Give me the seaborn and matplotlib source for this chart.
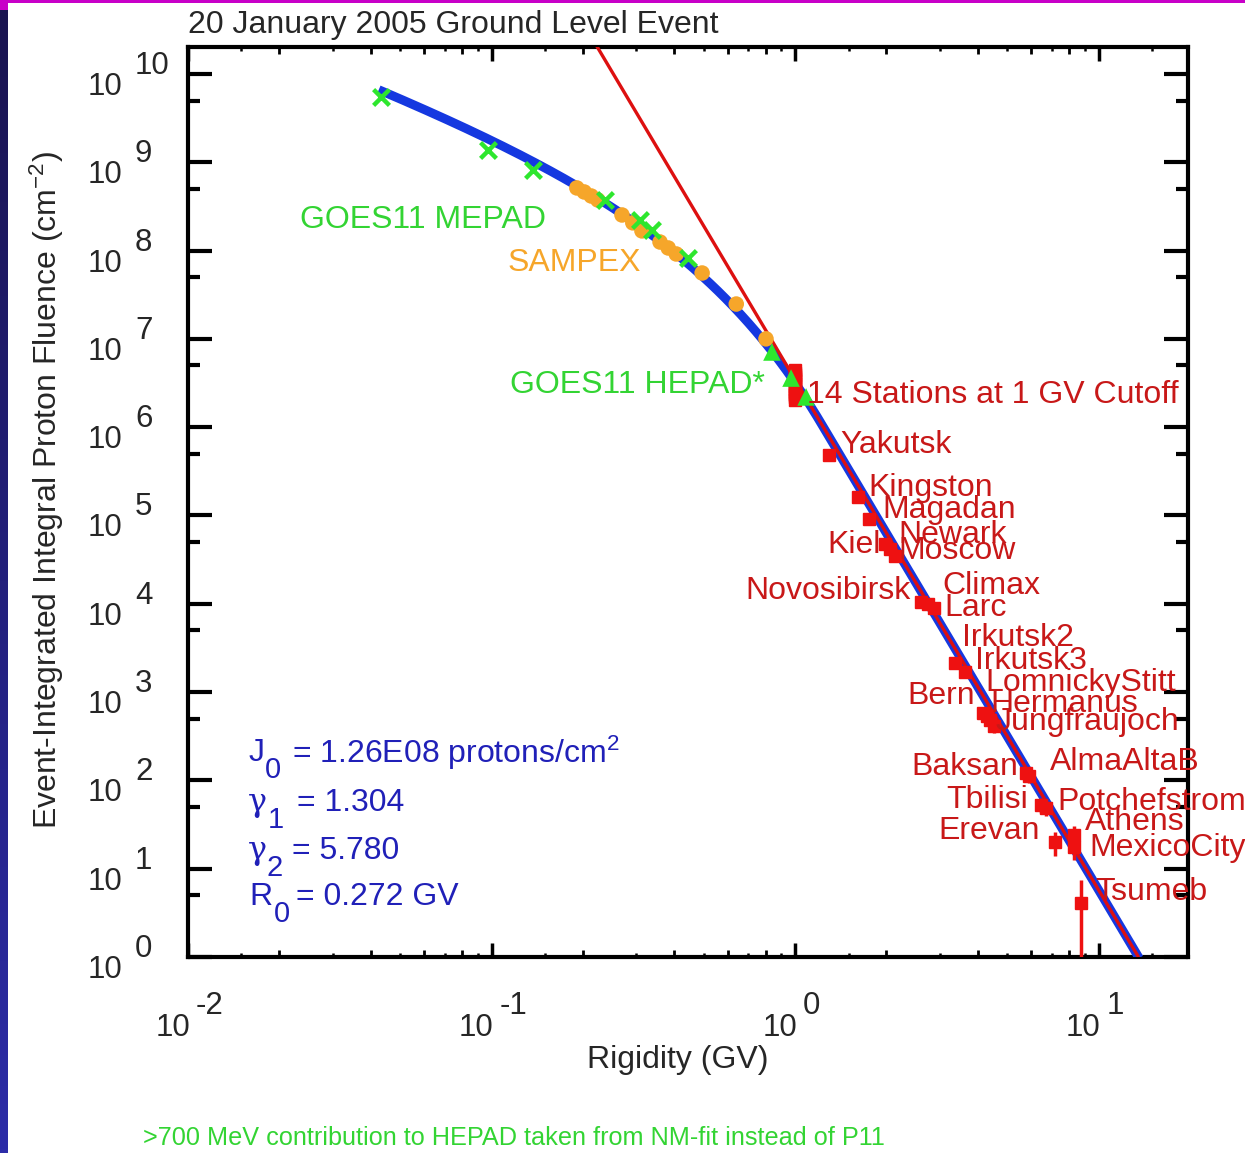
import numpy as np
import matplotlib
matplotlib.use("Agg")
import matplotlib.pyplot as plt
import seaborn as sns
from matplotlib.transforms import offset_copy
from matplotlib.ticker import FixedLocator, NullFormatter
from matplotlib.colors import LinearSegmentedColormap
from matplotlib.patches import Rectangle

# ---------------------------------------------------------------- data
# GOES11 MEPAD integral fluences (GV, protons/cm^2)
mepad_rigidity = [0.0433, 0.0974, 0.137, 0.237, 0.308, 0.337, 0.444]
mepad_fluence = [5.5e9, 1.38e9, 8.2e8, 3.74e8, 2.22e8, 1.71e8, 8.25e7]

# SAMPEX integral fluences
sampex_rigidity = [0.191, 0.202, 0.213, 0.224, 0.269, 0.292, 0.313,
                   0.359, 0.382, 0.406, 0.494, 0.640, 0.802]
sampex_fluence = [5.12e8, 4.61e8, 4.15e8, 3.74e8, 2.53e8, 2.06e8, 1.67e8,
                  1.25e8, 1.07e8, 9.15e7, 5.57e7, 2.48e7, 1.0e7]

# GOES11 HEPAD integral fluences
hepad_rigidity = [0.839, 0.970, 1.087]
hepad_fluence = [7.1e6, 3.6e6, 2.2e6]

# neutron monitors at ~1 GV cutoff (14 stations)
cutoff_rigidity = [1.0] * 14
cutoff_fluence = [4.4e6, 4.1e6, 3.9e6, 3.7e6, 3.5e6, 3.3e6, 3.1e6,
                  2.9e6, 2.7e6, 2.5e6, 2.4e6, 2.3e6, 2.2e6, 2.05e6]
cutoff_err = [2.0e5] * 14

# neutron monitor stations above 1 GV
station_names = ["Yakutsk", "Kingston", "Magadan", "Kiel", "Newark", "Moscow",
                 "Novosibirsk", "Climax", "Larc", "Irkutsk2", "Irkutsk3",
                 "Bern", "LomnickyStitt", "Hermanus", "Jungfraujoch",
                 "Baksan", "AlmaAltaB", "Tbilisi", "Potchefstrom",
                 "Erevan", "Athens", "MexicoCity", "Tsumeb"]
station_rigidity = [1.294, 1.613, 1.754, 1.98, 2.056, 2.136,
                    2.60, 2.74, 2.87, 3.37, 3.63,
                    4.16, 4.30, 4.39, 4.53,
                    5.77, 5.90, 6.46, 6.71,
                    7.19, 8.30, 8.30, 8.75]
station_fluence = [4.84e5, 1.62e5, 9.1e4, 4.75e4, 4.18e4, 3.48e4,
                   1.05e4, 9.95e3, 8.96e3, 2.14e3, 1.69e3,
                   580, 536, 483, 413,
                   121, 112, 52.7, 48.7,
                   20.1, 24.1, 17.6, 4.09]
station_err_lo = [6e4, 2e4, 1.1e4, 5e3, 5e3, 4e3,
                  1.2e3, 1.2e3, 1.1e3, 300, 250,
                  80, 75, 80, 70,
                  20, 18, 10, 9,
                  6, 6, 5, 3.9]
station_err_hi = [6e4, 2e4, 1.1e4, 5e3, 5e3, 4e3,
                  1.2e3, 1.2e3, 1.1e3, 300, 250,
                  80, 75, 80, 70,
                  20, 18, 10, 9,
                  6, 6, 5, 3.36]

# Band-function fit parameters
J0 = 1.26e8       # protons/cm^2
gamma1 = 1.304
gamma2 = 5.780
R0 = 0.272        # GV
fit_range = [0.0425, 13.6]
nm_range = [0.20, 13.5]

x_exponents = [-2, -1, 0, 1]
y_exponents = list(range(0, 11))

# ---------------------------------------------------------------- style
sns.set_theme(style="white")
plt.rcParams["font.family"] = ["Liberation Sans", "DejaVu Sans"]
plt.rcParams["mathtext.fontset"] = "custom"
plt.rcParams["mathtext.rm"] = "Liberation Sans"
plt.rcParams["mathtext.it"] = "Liberation Sans:italic"
plt.rcParams["mathtext.bf"] = "Liberation Sans:bold"

BLUE = "#1538e0"
RED_LINE = "#dd1010"
RED_MARK = "#ee1111"
RED_TEXT = "#c81818"
GREEN_MARK = "#2ee62e"
GREEN_TEXT = "#33d433"
ORANGE = "#f6a62a"
NAVY_TEXT = "#2020b8"

W, H = 1245, 1153
fig = plt.figure(figsize=(W / 100, H / 100), dpi=100, facecolor="white")
ax = fig.add_axes([188 / W, 1 - 957 / H, 1000 / W, 910 / H])
ax.set_facecolor("white")
ax.set_xscale("log")
ax.set_yscale("log")
ax.set_xlim(0.01, 19.7)
ax.set_ylim(1.0, 2.02e10)

# ---------------------------------------------------------------- fit curves
band_break = (gamma2 - gamma1) * R0
fit_R = np.logspace(np.log10(fit_range[0]), np.log10(fit_range[1]), 400)
low = J0 * fit_R ** (-gamma1) * np.exp(-fit_R / R0)
high = (J0 * fit_R ** (-gamma2) * band_break ** (gamma2 - gamma1)
        * np.exp(gamma1 - gamma2))
fit_J = np.where(fit_R <= band_break, low, high)
sns.lineplot(x=fit_R, y=fit_J, ax=ax, color=BLUE, linewidth=6.5,
             zorder=3, sort=False, solid_capstyle="butt")

nm_norm = J0 * band_break ** (gamma2 - gamma1) * np.exp(gamma1 - gamma2)
nm_R = np.array(nm_range)
nm_J = nm_norm * nm_R ** (-gamma2)
sns.lineplot(x=nm_R, y=nm_J, ax=ax, color=RED_LINE, linewidth=2.4,
             zorder=4, sort=False)

# ---------------------------------------------------------------- spacecraft
sns.scatterplot(x=sampex_rigidity, y=sampex_fluence, ax=ax, marker="o",
                s=125, color=ORANGE, edgecolor="none", zorder=5)
sns.scatterplot(x=mepad_rigidity, y=mepad_fluence, ax=ax, marker="x",
                s=130, color=GREEN_MARK, linewidth=3.2, zorder=6)
sns.scatterplot(x=hepad_rigidity, y=hepad_fluence, ax=ax, marker="^",
                s=160, color=GREEN_MARK, edgecolor="none", zorder=6)

# ---------------------------------------------------------------- neutron monitors
ax.errorbar(cutoff_rigidity, cutoff_fluence, yerr=cutoff_err, fmt="s",
            ms=8, color=RED_MARK, ecolor=RED_MARK, elinewidth=2.5,
            capsize=0, zorder=5)
ax.errorbar(station_rigidity, station_fluence,
            yerr=[station_err_lo, station_err_hi], fmt="s", ms=8.5,
            color=RED_MARK, ecolor=RED_MARK, elinewidth=2.5, capsize=0,
            zorder=5)

# label placement relative to each station, in pixels
label_layout = {
    "Yakutsk": (11, 10, "left"), "Kingston": (10, 9, "left"),
    "Magadan": (13, 9, "left"), "Kiel": (-4, -1, "right"),
    "Newark": (8, 14, "left"), "Moscow": (3, 5, "left"),
    "Novosibirsk": (-10, 11, "right"), "Climax": (14, 18, "left"),
    "Larc": (10, 0, "left"), "Irkutsk2": (7, 25, "left"),
    "Irkutsk3": (10, 11, "left"), "Bern": (-8, 17, "right"),
    "LomnickyStitt": (-2, 33, "left"), "Hermanus": (0, 16, "left"),
    "Jungfraujoch": (1, 4, "left"), "Baksan": (-8, 6, "right"),
    "AlmaAltaB": (21, 14, "left"), "Tbilisi": (-13, 5, "right"),
    "Potchefstrom": (11, 6, "left"), "Erevan": (-15, 11, "right"),
    "Athens": (11, 13, "left"), "MexicoCity": (15, -1, "left"),
    "Tsumeb": (14, 11, "left"),
}
LABEL_FS = 23
for name, r, j in zip(station_names, station_rigidity, station_fluence):
    dx, dy, ha = label_layout[name]
    tr = offset_copy(ax.transData, fig=fig, x=dx, y=dy, units="dots")
    ax.text(r, j, name, transform=tr, ha=ha, va="center",
            fontsize=LABEL_FS, color=RED_TEXT, zorder=7, clip_on=False)

cut_anchor = float(np.exp(np.mean(np.log(cutoff_fluence))))
tr = offset_copy(ax.transData, fig=fig, x=12, y=-10, units="dots")
ax.text(cutoff_rigidity[0], cut_anchor, "14 Stations at 1 GV Cutoff",
        transform=tr, ha="left", va="center", fontsize=LABEL_FS,
        color=RED_TEXT, zorder=7)

# instrument names
fig.text(300 / W, 1 - 220 / H, "GOES11 MEPAD", color=GREEN_TEXT,
         fontsize=LABEL_FS, ha="left", va="center")
fig.text(508 / W, 1 - 263 / H, "SAMPEX", color=ORANGE,
         fontsize=LABEL_FS, ha="left", va="center")
fig.text(510 / W, 1 - 385 / H, "GOES11 HEPAD*", color=GREEN_TEXT,
         fontsize=LABEL_FS, ha="left", va="center")

# fit parameters: symbol, subscript, remainder (pixel layout)
PARAM_FS = 23
param_rows = [
    ("J", "0", r"= 1.26E08 protons/cm$^{\mathregular{2}}$", 753, 249, 265, 292),
    ("\u03b3", "1", "= %.3f" % gamma1, 803, 248, 268, 297),
    ("\u03b3", "2", "= %.3f" % gamma2, 851, 248, 267, 292),
    ("R", "0", "= %.3f GV" % R0, 897, 249, 274, 296),
]
for sym, sub, rest, yc, xs, xsub, xr in param_rows:
    fam = ["DejaVu Serif"] if sym == "\u03b3" else ["Liberation Sans"]
    fig.text(xs / W, 1 - yc / H, sym, color=NAVY_TEXT, fontsize=PARAM_FS,
             family=fam, ha="left", va="center")
    fig.text(xsub / W, 1 - (yc + 17) / H, sub, color=NAVY_TEXT,
             fontsize=21, ha="left", va="center")
    fig.text(xr / W, 1 - yc / H, rest, color=NAVY_TEXT, fontsize=PARAM_FS,
             ha="left", va="center")

# ---------------------------------------------------------------- axes frame and ticks
for sp in ax.spines.values():
    sp.set_linewidth(3.0)
    sp.set_color("black")
    sp.set_visible(True)

decades_x = [1e-2, 1e-1, 1, 10]
ax.xaxis.set_major_locator(FixedLocator(decades_x))
ax.xaxis.set_minor_locator(FixedLocator([m * d for d in decades_x for m in (2, 4, 6, 8)]))
ax.yaxis.set_major_locator(FixedLocator([10.0 ** e for e in y_exponents]))
ax.yaxis.set_minor_locator(FixedLocator([5 * 10.0 ** e for e in y_exponents]))
ax.xaxis.set_major_formatter(NullFormatter())
ax.xaxis.set_minor_formatter(NullFormatter())
ax.yaxis.set_major_formatter(NullFormatter())
ax.yaxis.set_minor_formatter(NullFormatter())
ax.tick_params(which="both", direction="in", top=True, right=True,
               bottom=True, left=True, color="black")
ax.tick_params(axis="x", which="major", length=10, width=2.5)
ax.tick_params(axis="x", which="minor", length=5, width=2.0)
ax.tick_params(axis="y", which="major", length=17, width=3.0)
ax.tick_params(axis="y", which="minor", length=8.5, width=3.0)

short_ticks = [m * d for d in decades_x for m in (1.5, 3, 5, 7, 9)
               if m * d < 19.7]
xt = ax.get_xaxis_transform()
ax.vlines(short_ticks, 0, 0.0045, transform=xt, color="black", lw=1.8,
          clip_on=False, zorder=8)
ax.vlines(short_ticks, 0.9955, 1, transform=xt, color="black", lw=1.8,
          clip_on=False, zorder=8)

TICK_FS = 22.5
yt = ax.get_yaxis_transform()
for e in y_exponents:
    ax.text(0, 10.0 ** e, "10", ha="right", va="center", fontsize=TICK_FS,
            transform=offset_copy(yt, fig=fig, x=-66, y=-13, units="dots"),
            clip_on=False)
    ax.text(0, 10.0 ** e, str(e), ha="left", va="center", fontsize=TICK_FS,
            transform=offset_copy(yt, fig=fig, x=-53, y=8, units="dots"),
            clip_on=False)
for e in x_exponents:
    ax.text(10.0 ** e, 0, "10", ha="right", va="center", fontsize=TICK_FS,
            transform=offset_copy(xt, fig=fig, x=2, y=-71, units="dots"),
            clip_on=False)
    ax.text(10.0 ** e, 0, str(e), ha="left", va="center", fontsize=TICK_FS,
            transform=offset_copy(xt, fig=fig, x=8, y=-49, units="dots"),
            clip_on=False)

ax.set_xlabel("")
ax.set_ylabel("")
fig.text(678 / W, 1 - 1060 / H, "Rigidity (GV)", fontsize=23,
         ha="center", va="center")
fig.text(47 / W, 1 - 490 / H,
         r"Event-Integrated Integral Proton Fluence (cm$^{\mathregular{-2}}$)",
         fontsize=23, rotation=90, ha="center", va="center")
fig.text(188 / W, 1 - 25 / H, "20 January 2005 Ground Level Event",
         fontsize=23, ha="left", va="center")
fig.text(143 / W, 1 - 1138 / H,
         ">700 MeV contribution to HEPAD taken from NM-fit instead of P11",
         fontsize=18.2, color=GREEN_TEXT, ha="left", va="center")

# ---------------------------------------------------------------- slide trim
strip = fig.add_axes([0, 0, 8 / W, 1 - 10 / H])
strip.imshow(np.linspace(0, 1, 256).reshape(-1, 1), aspect="auto",
             cmap=LinearSegmentedColormap.from_list("trim", ["#1a1450", "#2c2ca8"]))
strip.set_axis_off()
fig.patches.append(Rectangle((0, 1 - 3 / H), 1, 3 / H, transform=fig.transFigure,
                             facecolor="#c800c8", edgecolor="none"))
fig.patches.append(Rectangle((0, 1 - 10 / H), 8 / W, 10 / H, transform=fig.transFigure,
                             facecolor="#c800c8", edgecolor="none"))

fig.savefig("out.png", dpi=100, facecolor="white")
